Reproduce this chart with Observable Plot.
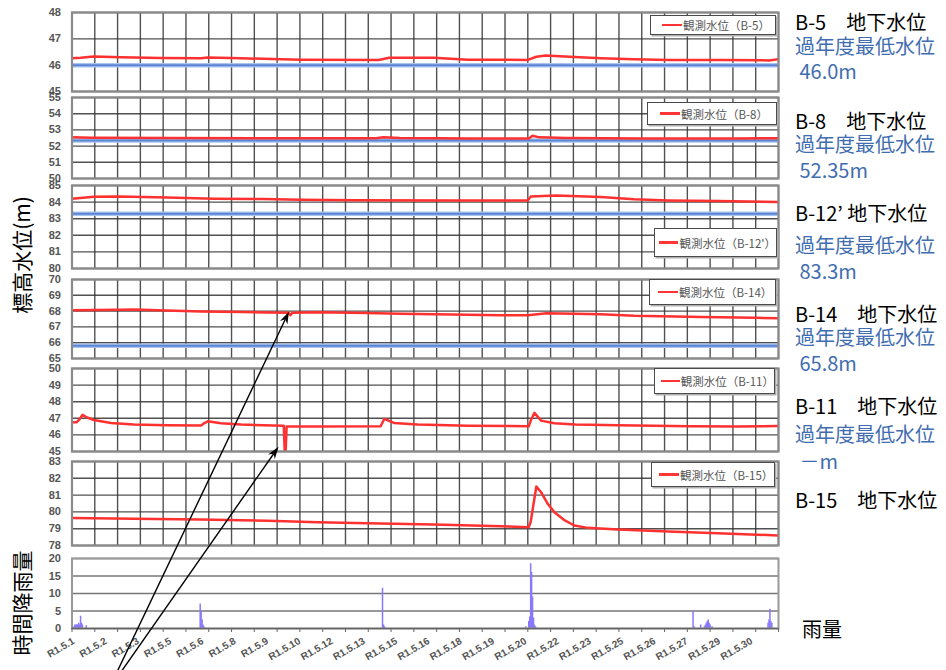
<!DOCTYPE html>
<html>
<head>
<meta charset="utf-8">
<script src="https://cdn.jsdelivr.net/npm/d3@7"></script>
<script src="https://cdn.jsdelivr.net/npm/@observablehq/plot@0.6"></script>
<style>
  body { margin: 0; background: #fff; }
  #root { position: relative; width: 946px; height: 670px; overflow: hidden; font-family: "Noto Sans CJK JP", "Noto Sans", sans-serif; }
  .panel { position: absolute; left: 0; }
  .legend { position: absolute; box-sizing: border-box; border: 1.5px solid #4a4a4a; background: #fff;
            box-shadow: 1.5px 1.5px 0 #b0b0b0; display: flex; align-items: center; font-size: 11.5px; color: #555; white-space: nowrap; }
  .legend i { display: inline-block; width: 20px; height: 2.2px; background: #ff3535; margin-right: 1px; }
  .lab { position: absolute; font-size: 20px; white-space: pre; line-height: 1; }
</style>
</head>
<body>
<div id="root"></div>
<script>
// ---------- data ----------
const tickHours  = [0, 34, 68, 102, 136, 170, 204, 238, 272, 306, 340, 374, 408, 442, 476, 510, 544, 578, 612, 646, 680, 714];
const tickLabels = ["R1.5.1","R1.5.2","R1.5.3","R1.5.5","R1.5.6","R1.5.8","R1.5.9","R1.5.10","R1.5.12","R1.5.13","R1.5.15",
                    "R1.5.16","R1.5.18","R1.5.19","R1.5.20","R1.5.22","R1.5.23","R1.5.25","R1.5.26","R1.5.27","R1.5.29","R1.5.30"];
const dayHours = d3.range(0, 745, 24);

const b5Hours  = [0, 9, 23, 51, 93, 136, 143, 178, 241, 323, 334, 381, 417, 480, 489, 499, 529, 557, 592, 628, 684, 734, 744];
const b5Levels = [46.26, 46.28, 46.33, 46.30, 46.27, 46.26, 46.29, 46.26, 46.21, 46.20, 46.28, 46.28, 46.21, 46.20, 46.32, 46.37, 46.31, 46.26, 46.22, 46.20, 46.20, 46.18, 46.23];

const b8Hours  = [0, 20, 100, 200, 320, 328, 345, 420, 481, 485, 492, 520, 600, 700, 744];
const b8Levels = [52.55, 52.52, 52.50, 52.49, 52.49, 52.55, 52.50, 52.47, 52.47, 52.64, 52.54, 52.50, 52.47, 52.47, 52.49];

const b12Hours  = [0, 23, 50, 100, 150, 200, 241, 300, 400, 480, 483, 510, 557, 592, 628, 680, 744];
const b12Levels = [84.20, 84.32, 84.34, 84.27, 84.20, 84.18, 84.14, 84.11, 84.10, 84.09, 84.33, 84.40, 84.30, 84.17, 84.10, 84.06, 84.00];

const b14Hours  = [0, 50, 65, 100, 136, 180, 205, 228, 230, 232, 260, 310, 346, 400, 451, 480, 500, 557, 592, 663, 720, 744];
const b14Levels = [68.05, 68.08, 68.10, 68.04, 67.97, 67.94, 67.91, 67.90, 67.74, 67.90, 67.93, 67.88, 67.84, 67.79, 67.74, 67.74, 67.86, 67.80, 67.70, 67.63, 67.58, 67.54];

const b11Hours  = [0, 5, 8, 11, 16, 23, 41, 65, 100, 136, 139, 143, 157, 178, 222, 223, 224, 225, 226, 260, 325, 329, 339, 364, 417, 481, 483, 487, 494, 508, 530, 575, 650, 700, 744];
const b11Levels = [46.76, 46.76, 46.95, 47.21, 47.05, 46.90, 46.72, 46.62, 46.58, 46.56, 46.70, 46.82, 46.70, 46.62, 46.55, 46.55, 45.00, 45.00, 46.50, 46.50, 46.52, 46.97, 46.72, 46.62, 46.55, 46.52, 46.85, 47.33, 46.86, 46.70, 46.62, 46.58, 46.52, 46.50, 46.54];

const b15Hours  = [0, 65, 135, 206, 259, 311, 381, 452, 481, 483, 489, 494, 501, 508, 518, 529, 543, 575, 628, 680, 744];
const b15Levels = [79.63, 79.59, 79.55, 79.47, 79.39, 79.33, 79.25, 79.15, 79.09, 79.40, 81.51, 81.17, 80.48, 79.98, 79.53, 79.19, 79.05, 78.95, 78.83, 78.73, 78.60];

const rainHours  = [2, 3, 4, 5, 6, 7, 8, 9, 10, 11, 15,
                    135, 136, 137, 138, 139,
                    327, 328, 329,
                    478, 481, 482, 483, 484, 485, 486, 487, 488,
                    654, 655, 662, 666, 667, 668, 669, 670, 671, 672, 674,
                    733, 734, 735, 736, 737];
const rainValues = [0.5, 1, 1, 1, 1, 1.5, 1, 3.5, 1.5, 1, 0.8,
                    7, 5, 2.5, 1, 0.5,
                    11.5, 1, 0.5,
                    0.5, 2, 3.3, 18.5, 16, 9, 3, 1, 0.5,
                    5, 0.5, 1, 0.5, 1, 1.5, 2, 2.4, 1.5, 1, 0.5,
                    1.5, 2.5, 5.5, 2, 1.5];

const wellNames   = ["B-5", "B-8", "B-12'", "B-14", "B-11", "B-15"];
const wellDomains = [[45, 48], [50, 55], [80, 85], [65, 70], [45, 50], [78, 83]];
const minLevels   = [46.0, 52.35, 83.3, 65.8, null, null];
const wellHours   = [b5Hours, b8Hours, b12Hours, b14Hours, b11Hours, b15Hours];
const wellLevels  = [b5Levels, b8Levels, b12Levels, b14Levels, b11Levels, b15Levels];
const legendTexts = ["観測水位（B-5）", "観測水位（B-8）", "観測水位（B-12'）", "観測水位（B-14）", "観測水位（B-11）", "観測水位（B-15）"];

// ---------- layout (pixels) ----------
const panelTop    = [12, 97, 185, 278.5, 368, 461];
const panelBottom = [91, 178, 268, 357.5, 451, 545];
const legendBox   = [[650, 15, 126, 20, 11], [647, 102, 130, 23, 12], [654, 228, 123, 29, 4],
                     [649, 279, 127, 26, 8], [654, 368, 121, 26, 6], [651, 462, 124, 25, 7]];

const root = document.getElementById("root");
const RED = "#ff3030", BLUE = "#5a86d5", TXTBLUE = "#3f6db0";
const W = 800, ML = 71.5, MR = 22;
const charts = {};
const axisStyle = {background: "transparent", overflow: "visible", fontFamily: "Liberation Sans, Arial, sans-serif",
                   fontSize: "11px", fontWeight: "bold", color: "#555"};

function place(el, top) {
  el.classList.add("panel");
  el.style.top = top + "px";
  root.appendChild(el);
}

wellNames.forEach((name, i) => {
  const mt = 8, mb = 8;
  const top = panelTop[i], bottom = panelBottom[i];
  const [lo, hi] = wellDomains[i];
  const yTicks = d3.range(lo, hi + 1);
  const data = wellHours[i].map((h, k) => ({h, v: wellLevels[i][k]}));
  const chart = Plot.plot({
    width: W, height: bottom - top + mt + mb,
    marginLeft: ML, marginRight: MR, marginTop: mt, marginBottom: mb,
    x: {domain: [0, 744], axis: null},
    y: {domain: [lo, hi], axis: null},
    style: axisStyle,
    marks: [
      Plot.gridX(dayHours, {stroke: "#333", strokeOpacity: 0.85, strokeWidth: 1.4}),
      Plot.gridY(yTicks, {stroke: "#333", strokeOpacity: 0.85, strokeWidth: 1.4}),
      Plot.axisY({ticks: yTicks, tickSize: 0, tickPadding: 11, tickFormat: d => String(d), label: null}),
      minLevels[i] != null ? Plot.ruleY([minLevels[i]], {stroke: "#aac4ee", strokeWidth: 4.5}) : null,
      minLevels[i] != null ? Plot.ruleY([minLevels[i]], {stroke: BLUE, strokeWidth: 2}) : null,
      Plot.line(data, {x: "h", y: "v", stroke: RED, strokeWidth: 2.5, clip: true}),
      Plot.frame({stroke: "#8a8a8a", strokeWidth: 2.2})
    ]
  });
  place(chart, top - mt);
  charts[name] = {chart, offset: top - mt};

  const [lx, ly, lw, lh, pad] = legendBox[i];
  const lg = document.createElement("div");
  lg.className = "legend";
  Object.assign(lg.style, {left: lx + "px", top: ly + "px", width: lw + "px", height: lh + "px", paddingLeft: pad + "px"});
  lg.innerHTML = `<i></i><span>${legendTexts[i]}</span>`;
  root.appendChild(lg);
});

// rain panel
{
  const mt = 8, mb = 42, top = 558, bottom = 628;
  const rain = rainHours.map((h, k) => ({h, v: rainValues[k]}));
  const chart = Plot.plot({
    width: W, height: bottom - top + mt + mb,
    marginLeft: ML, marginRight: MR, marginTop: mt, marginBottom: mb,
    x: {domain: [0, 744], axis: null},
    y: {domain: [0, 20], axis: null},
    style: axisStyle,
    marks: [
      Plot.gridY([5, 10, 15, 20], {stroke: "#777", strokeOpacity: 1, strokeWidth: 1.6}),
      Plot.axisY({ticks: [0, 5, 10, 15, 20], tickSize: 0, tickPadding: 11, tickFormat: d => String(d), label: null}),
      Plot.ruleX(rain, {x: "h", y1: 0, y2: "v", stroke: "#8878ff", strokeWidth: 1.5}),
      Plot.frame({stroke: "#999", strokeWidth: 2}),
      Plot.ruleY([0], {stroke: "#666", strokeWidth: 1.6}),
      Plot.axisX({ticks: dayHours, tickSize: 4, tickFormat: () => "", stroke: "#666", label: null})
    ]
  });
  place(chart, top - mt);
  charts["rain"] = {chart, offset: top - mt, bottom};
}

// right-side labels
const sideLabels = [
  ["B-5　地下水位", 22, "#000"], ["過年度最低水位", 46, TXTBLUE], [" 46.0m", 71, TXTBLUE],
  ["B-8　地下水位", 121, "#000"], ["過年度最低水位", 144, TXTBLUE], [" 52.35m", 170, TXTBLUE],
  ["B-12’ 地下水位", 213, "#000"], ["過年度最低水位", 245, TXTBLUE], [" 83.3m", 271, TXTBLUE],
  ["B-14　地下水位", 314, "#000"], ["過年度最低水位", 337, TXTBLUE], [" 65.8m", 363, TXTBLUE],
  ["B-11　地下水位", 406, "#000"], ["過年度最低水位", 434, TXTBLUE], [" －m", 461, TXTBLUE],
  ["B-15　地下水位", 500, "#000"]
];
sideLabels.forEach(([t, c, col]) => {
  const d = document.createElement("div");
  d.className = "lab";
  Object.assign(d.style, {left: "795px", top: (c - 10) + "px", color: col});
  d.textContent = t;
  root.appendChild(d);
});
{
  const d = document.createElement("div");
  d.className = "lab";
  Object.assign(d.style, {left: "802px", top: (629 - 10) + "px", color: "#000"});
  d.textContent = "雨量";
  root.appendChild(d);
}

// overlay: rotated date labels, vertical titles and arrows
const svg = d3.select(root).append("svg")
  .attr("width", 946).attr("height", 670)
  .style("position", "absolute").style("left", 0).style("top", 0).style("pointer-events", "none");

{
  const xs = charts["rain"].chart.scale("x");
  svg.append("g").attr("font-family", "Liberation Sans, Arial, sans-serif").attr("font-size", 10)
    .attr("font-weight", "bold").attr("fill", "#555")
    .selectAll("text").data(tickHours).join("text")
    .attr("transform", d => `translate(${xs.apply(d) + 2},${charts["rain"].bottom + 12}) rotate(-30)`)
    .attr("text-anchor", "end").attr("dy", "0.35em")
    .text((d, k) => tickLabels[k]);
}

svg.append("text").attr("transform", "translate(30,255) rotate(-90)")
  .attr("text-anchor", "middle").attr("font-size", 21).attr("font-family", "Noto Sans CJK JP")
  .text("標高水位(m)");
svg.append("text").attr("transform", "translate(30,603) rotate(-90)")
  .attr("text-anchor", "middle").attr("font-size", 21).attr("font-family", "Noto Sans CJK JP")
  .text("時間降雨量");

const arrowTargets = [
  {well: "B-14", hour: 229, level: 67.9, tail: [117, 672]},
  {well: "B-11", hour: 218, level: 45.25, tail: [121, 672]}
];
arrowTargets.forEach(a => {
  const {chart, offset} = charts[a.well];
  const hx = chart.scale("x").apply(a.hour);
  const hy = chart.scale("y").apply(a.level) + offset;
  const [tx, ty] = a.tail;
  const ang = Math.atan2(hy - ty, hx - tx);
  const L = 13, spread = 0.32;
  const p1 = [hx - L * Math.cos(ang - spread), hy - L * Math.sin(ang - spread)];
  const p2 = [hx - L * Math.cos(ang + spread), hy - L * Math.sin(ang + spread)];
  const pn = [hx - 0.65 * L * Math.cos(ang), hy - 0.65 * L * Math.sin(ang)];
  svg.append("line").attr("x1", tx).attr("y1", ty).attr("x2", pn[0]).attr("y2", pn[1])
    .attr("stroke", "#000").attr("stroke-width", 1.4);
  svg.append("path").attr("d", `M${hx},${hy}L${p1[0]},${p1[1]}L${pn[0]},${pn[1]}L${p2[0]},${p2[1]}Z`)
    .attr("fill", "#000");
});
</script>
</body>
</html>
